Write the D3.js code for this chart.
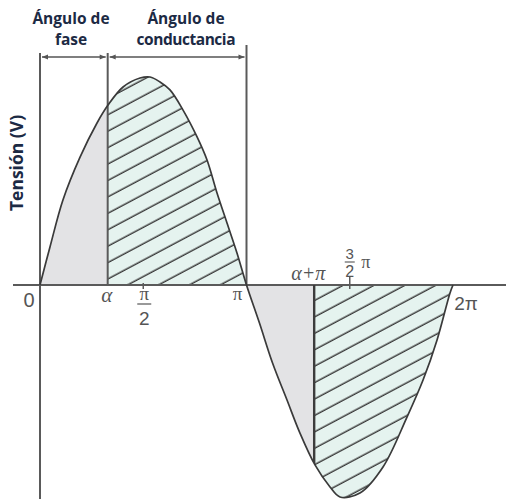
<!DOCTYPE html>
<html>
<head>
<meta charset="utf-8">
<script src="https://cdn.jsdelivr.net/npm/d3@7/dist/d3.min.js"></script>
<style>
  html, body { margin: 0; padding: 0; background: #fff; }
  svg { display: block; }
</style>
</head>
<body>
<script>
// Waveform read as (phase angle in degrees, normalised voltage)
const angleDeg = [0, 8.7, 20.0, 34.9, 49.7, 59.3, 72.4, 87.2, 95.9, 104.6, 113.3, 124.7, 136.9, 145.6, 154.3, 163.0, 171.7, 180,
                  191.3, 202.7, 215.3, 226.6, 239.7, 252.8, 261.5, 278.9, 299.0, 319.9, 333.9, 346.1, 357.4, 360];
const voltage  = [0, 0.183, 0.409, 0.615, 0.779, 0.865, 0.952, 0.995, 1.0, 0.976, 0.938, 0.841, 0.712, 0.601, 0.442, 0.298, 0.154, 0,
                  -0.183, -0.375, -0.553, -0.712, -0.865, -0.971, -1.019, -1.0, -0.875, -0.635, -0.457, -0.264, -0.038, 0];

// Firing (phase) angle
const alphaDeg = 59;

// Axis tick positions (degrees)
const tickDeg = [90, 270];

const W = 506, H = 499;
const svg = d3.select("body").append("svg").attr("width", W).attr("height", H);

const x = d3.scaleLinear().domain([0, 360]).range([40, 453]);
const y = d3.scaleLinear().domain([-1, 1]).range([493, 77]);

const pts = angleDeg.map((a, i) => [a, voltage[i]]);

const curve = d3.curveCatmullRom.alpha(0.5);
const line = d3.line().x(d => x(d[0])).y(d => y(d[1])).curve(curve);
const area = d3.area().x(d => x(d[0])).y0(y(0)).y1(d => y(d[1])).curve(curve);

const defs = svg.append("defs");

// diagonal hatching
const pat = defs.append("pattern")
  .attr("id", "hatch")
  .attr("patternUnits", "userSpaceOnUse")
  .attr("width", 20).attr("height", 14.5)
  .attr("patternTransform", "rotate(-28)");
pat.append("rect").attr("width", 20).attr("height", 14.5).attr("fill", "#e5f3ef");
pat.append("line").attr("x1", 0).attr("x2", 20).attr("y1", 7).attr("y2", 7)
  .attr("stroke", "#333").attr("stroke-width", 1.4);

// clip regions by phase interval
function clipRange(id, a0, a1) {
  defs.append("clipPath").attr("id", id)
    .append("rect").attr("x", x(a0)).attr("y", 0)
    .attr("width", x(a1) - x(a0)).attr("height", H);
}
clipRange("c-off1", 0, alphaDeg);
clipRange("c-on1", alphaDeg, 180);
clipRange("c-off2", 180, alphaDeg + 180);
clipRange("c-on2", alphaDeg + 180, 360);
defs.append("clipPath").attr("id", "c-wave").append("path").attr("d", area(pts));

// blocked parts (grey)
["c-off1", "c-off2"].forEach(id =>
  svg.append("path").attr("d", area(pts)).attr("fill", "#e3e3e5")
    .attr("clip-path", `url(#${id})`));
// conducting parts (hatched)
["c-on1", "c-on2"].forEach(id =>
  svg.append("path").attr("d", area(pts)).attr("fill", "url(#hatch)")
    .attr("clip-path", `url(#${id})`));

const axisColor = "#5a5a5a";

// horizontal axis
svg.append("line").attr("x1", 13).attr("x2", W).attr("y1", y(0)).attr("y2", y(0))
  .attr("stroke", axisColor).attr("stroke-width", 2.2);

// tick marks at pi/2 and 3pi/2
svg.selectAll(".tk").data(tickDeg).enter().append("line")
  .attr("x1", d => x(d)).attr("x2", d => x(d))
  .attr("y1", (d, i) => i === 0 ? y(0) - 2 : y(0) - 9)
  .attr("y2", y(0) + 4)
  .attr("stroke", axisColor).attr("stroke-width", 1.5);

// vertical axis and angle markers
svg.append("line").attr("x1", x(0)).attr("x2", x(0)).attr("y1", 53).attr("y2", H)
  .attr("stroke", axisColor).attr("stroke-width", 2);
svg.append("line").attr("x1", x(alphaDeg)).attr("x2", x(alphaDeg)).attr("y1", 53).attr("y2", y(0))
  .attr("stroke", axisColor).attr("stroke-width", 2);
svg.append("line").attr("x1", x(180)).attr("x2", x(180)).attr("y1", 45).attr("y2", y(0))
  .attr("stroke", axisColor).attr("stroke-width", 2);
svg.append("line").attr("x1", x(alphaDeg + 180)).attr("x2", x(alphaDeg + 180))
  .attr("y1", y(0)).attr("y2", y(-1.1))
  .attr("stroke", "#3c3c3c").attr("stroke-width", 2.4)
  .attr("clip-path", "url(#c-wave)");

// waveform
svg.append("path").attr("d", line(pts)).attr("fill", "none")
  .attr("stroke", "#3a3a3a").attr("stroke-width", 1.7);

// dimension arrows
defs.append("marker").attr("id", "arr").attr("viewBox", "0 0 10 10")
  .attr("refX", 10).attr("refY", 5).attr("markerWidth", 8).attr("markerHeight", 6)
  .attr("orient", "auto-start-reverse").attr("markerUnits", "userSpaceOnUse")
  .append("path").attr("d", "M0,1 L10,5 L0,9 Z").attr("fill", "#555");
const arrowY = 57;
[[0, alphaDeg], [alphaDeg, 180]].forEach(([a0, a1]) =>
  svg.append("line").attr("x1", x(a0) + 2).attr("x2", x(a1) - 2)
    .attr("y1", arrowY).attr("y2", arrowY)
    .attr("stroke", "#555").attr("stroke-width", 1.3)
    .attr("marker-start", "url(#arr)").attr("marker-end", "url(#arr)"));

// headings
const headFont = "'Open Sans', 'DejaVu Sans', sans-serif";
const headColor = "#1c2a44";
function head(cx, lines) {
  lines.forEach((t, i) => svg.append("text").attr("x", cx).attr("y", 24 + i * 21)
    .attr("text-anchor", "middle").attr("font-family", headFont)
    .attr("font-weight", "bold").attr("font-size", 15.5).attr("fill", headColor)
    .attr("textLength", t.length > 10 ? 99 : null)
    .text(t));
}
head(71, ["Ángulo de", "fase"]);
head(186, ["Ángulo de", "conductancia"]);

svg.append("text").attr("transform", "translate(23,163) rotate(-90)")
  .attr("text-anchor", "middle").attr("font-family", headFont)
  .attr("font-weight", "bold").attr("font-size", 17.5).attr("fill", headColor)
  .text("Tensión (V)");

// axis labels
const numFont = "'Liberation Sans', Arial, sans-serif";
const symFont = "'Liberation Serif', 'DejaVu Serif', serif";
const lblColor = "#555";
function txt(px, py, s, opts = {}) {
  return svg.append("text").attr("x", px).attr("y", py)
    .attr("text-anchor", opts.anchor || "middle")
    .attr("font-family", opts.font || numFont)
    .attr("font-style", opts.italic ? "italic" : null)
    .attr("font-size", opts.size || 19).attr("fill", lblColor).text(s);
}
txt(x(0) - 11, 307, "0", { size: 20 });
txt(x(alphaDeg) - 1, 302, "α", { font: symFont, italic: true, size: 21 });
// pi/2
txt(x(90) + 1, 300, "π", { font: symFont, size: 19 });
svg.append("line").attr("x1", x(90) - 6).attr("x2", x(90) + 8).attr("y1", 304).attr("y2", 304)
  .attr("stroke", lblColor).attr("stroke-width", 1.2);
txt(x(90) + 1, 325, "2", { size: 19 });
txt(x(180) - 9, 300, "π", { font: symFont, size: 19 });
// alpha + pi
txt(x(alphaDeg + 180) - 6, 280, "α+π", { font: symFont, italic: true, size: 20 });
// 3/2 pi
txt(x(270), 259, "3", { size: 15 });
svg.append("line").attr("x1", x(270) - 5).attr("x2", x(270) + 5).attr("y1", 262).attr("y2", 262)
  .attr("stroke", lblColor).attr("stroke-width", 1.1);
txt(x(270), 277, "2", { size: 16 });
txt(x(270) + 16, 268, "π", { font: symFont, size: 18 });
txt(x(360) + 13, 310, "2π", { size: 19 });
</script>
</body>
</html>
